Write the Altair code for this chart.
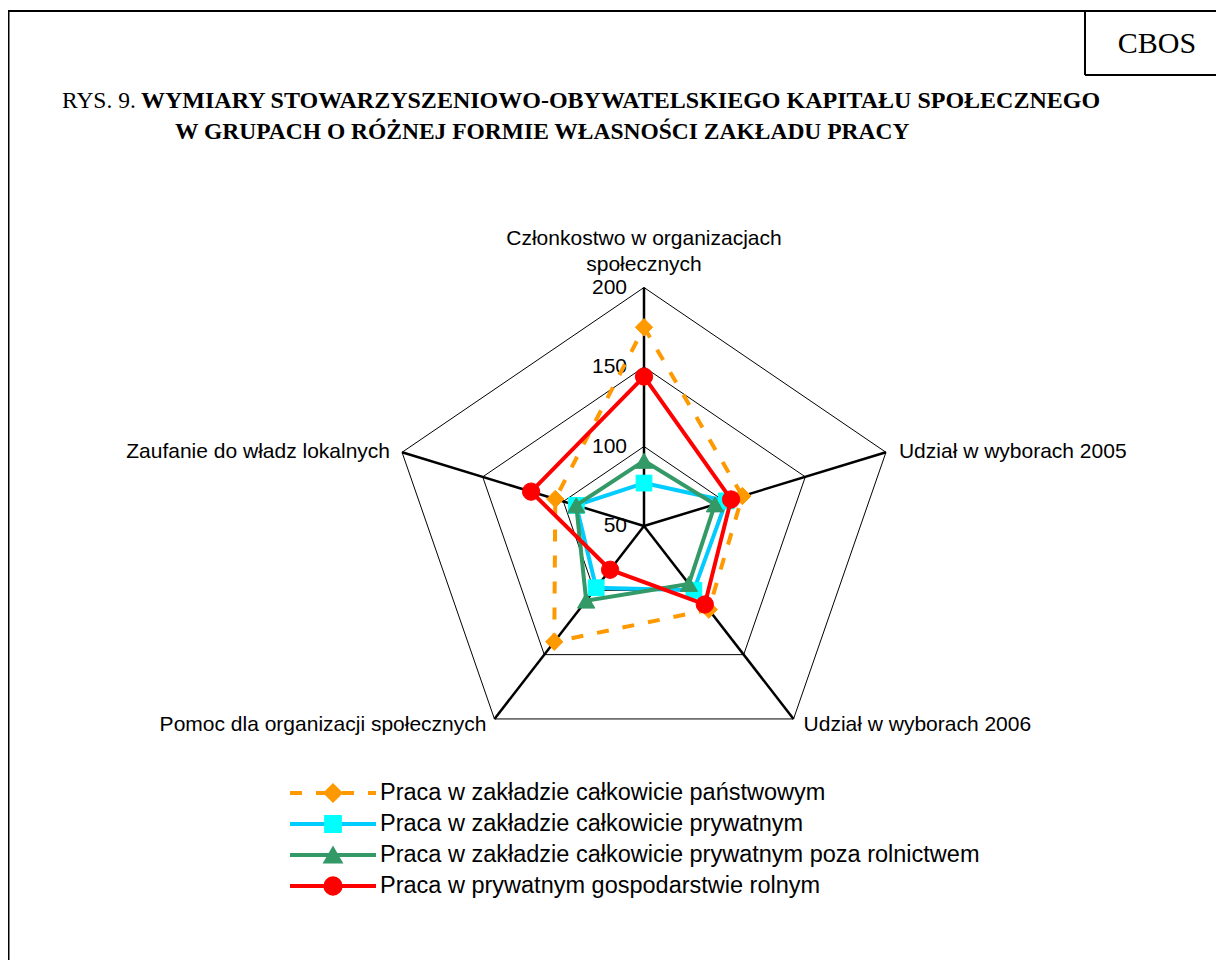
import altair as alt
import pandas as pd

# ---------------- data ----------------
categories = [
    "Członkostwo w organizacjach społecznych",
    "Udział w wyborach 2005",
    "Udział w wyborach 2006",
    "Pomoc dla organizacji społecznych",
    "Zaufanie do władz lokalnych",
]
category_labels = [
    "Członkostwo w organizacjach\nspołecznych",
    "Udział w wyborach 2005",
    "Udział w wyborach 2006",
    "Pomoc dla organizacji społecznych",
    "Zaufanie do władz lokalnych",
]
series_names = [
    "Praca w zakładzie całkowicie państwowym",
    "Praca w zakładzie całkowicie prywatnym",
    "Praca w zakładzie całkowicie prywatnym poza rolnictwem",
    "Praca w prywatnym gospodarstwie rolnym",
]
vals_panstwowy = [175, 111, 115, 140, 105]
vals_prywatny = [77, 101, 100, 98, 92]
vals_poza_rolnictwem = [91, 94, 95, 108, 92]
vals_rolny = [144, 104, 111, 84, 120]
axis_ticks = [50, 100, 150, 200]
ring_values = [100, 150, 200]
axis_min = 50
axis_max = 200

title_prefix = "RYS. 9."
title_line1 = "WYMIARY STOWARZYSZENIOWO-OBYWATELSKIEGO KAPITAŁU SPOŁECZNEGO"
title_line2 = "W GRUPACH O RÓŻNEJ FORMIE WŁASNOŚCI ZAKŁADU PRACY"
source_label = "CBOS"

# ---------------- layout ----------------
W, H = 1208, 952
CX, CY = 636, 518
KX, KY = 1.696, 1.59
xs = alt.Scale(domain=[-CX / KX, (W - CX) / KX], nice=False, zero=False)
ys = alt.Scale(domain=[-(H - CY) / KY, CY / KY], nice=False, zero=False)
SANS = "Liberation Sans"
SERIF = "Liberation Serif"
FS = 21
LEG_FS = 23.5

ANG = "datum.idx * 2 * PI / 5"
CALC_X = f"(datum.value - {axis_min}) * sin({ANG})"
CALC_Y = f"(datum.value - {axis_min}) * cos({ANG})"


def X():
    return alt.X("x:Q", scale=xs, axis=None)


def Y():
    return alt.Y("y:Q", scale=ys, axis=None)


one = pd.DataFrame({"a": [0]})
layers = []

# rings
ring_rows = [{"ring": r, "idx": k % 5, "ord": k, "value": r} for r in ring_values for k in range(6)]
rings = (
    alt.Chart(pd.DataFrame(ring_rows))
    .transform_calculate(x=CALC_X, y=CALC_Y)
    .mark_line(color="black", strokeWidth=1)
    .encode(x=X(), y=Y(), detail="ring:N", order="ord:Q")
)
layers.append(rings)

# spokes
spoke_df = pd.DataFrame({"idx": list(range(5)), "value": [axis_max] * 5})
spokes = (
    alt.Chart(spoke_df)
    .transform_calculate(x=CALC_X, y=CALC_Y, x0="0", y0="0")
    .mark_rule(color="black", strokeWidth=2.5)
    .encode(x=X(), y=Y(), x2="x0:Q", y2="y0:Q")
)
layers.append(spokes)

# tick labels
tick_df = pd.DataFrame({"value": axis_ticks, "idx": [0] * len(axis_ticks)})
ticks = (
    alt.Chart(tick_df)
    .transform_calculate(x=CALC_X, y=CALC_Y)
    .mark_text(align="right", baseline="middle", dx=-17, font=SANS, fontSize=FS, color="black")
    .encode(x=X(), y=Y(), text="value:Q")
)
layers.append(ticks)

# category labels
lab_df = pd.DataFrame({"idx": list(range(5)), "value": [axis_max] * 5, "label": category_labels})
lab_style = {
    0: dict(align="center", baseline="alphabetic", dx=0, dy=-43),
    1: dict(align="left", baseline="middle", dx=13, dy=0),
    2: dict(align="left", baseline="middle", dx=10, dy=6),
    3: dict(align="right", baseline="middle", dx=-8, dy=6),
    4: dict(align="right", baseline="middle", dx=-12, dy=0),
}
for i in range(5):
    layers.append(
        alt.Chart(lab_df)
        .transform_filter(alt.datum.idx == i)
        .transform_calculate(x=CALC_X, y=CALC_Y)
        .mark_text(font=SANS, fontSize=FS, color="black", lineBreak="\n", lineHeight=26, **lab_style[i])
        .encode(x=X(), y=Y(), text="label:N")
    )

# series
series_values = [vals_panstwowy, vals_prywatny, vals_poza_rolnictwem, vals_rolny]
rows = []
for s, vals in zip(series_names, series_values):
    for k in range(6):
        rows.append({"series": s, "idx": k % 5, "ord": k, "category": categories[k % 5], "value": vals[k % 5]})
df = pd.DataFrame(rows)

styles = [
    dict(line="#FF9900", fill="#FF9900", shape="diamond", size=300, dash=[12, 14]),
    dict(line="#00CCFF", fill="#00FFFF", shape="square", size=250, dash=None),
    dict(line="#339966", fill="#339966", shape="triangle-up", size=300, dash=None),
    dict(line="#FF0000", fill="#FF0000", shape="circle", size=300, dash=None),
]

for s, st in zip(series_names, styles):
    base = alt.Chart(df).transform_filter(alt.datum.series == s).transform_calculate(x=CALC_X, y=CALC_Y)
    lkw = dict(color=st["line"], strokeWidth=4)
    if st["dash"]:
        lkw["strokeDash"] = st["dash"]
    layers.append(base.mark_line(**lkw).encode(x=X(), y=Y(), order="ord:Q"))
    layers.append(
        base.transform_filter(alt.datum.ord < 5)
        .mark_point(shape=st["shape"], size=st["size"], filled=True, fill=st["fill"], stroke=st["fill"],
                    strokeWidth=1, opacity=1)
        .encode(x=X(), y=Y(), tooltip=["category:N", "value:Q"])
    )

# legend (drawn manually)
for i, (s, st) in enumerate(zip(series_names, styles)):
    ly = 785 + 31 * i
    ldf = pd.DataFrame({"name": [s]})
    rkw = dict(color=st["line"], strokeWidth=4)
    if st["dash"]:
        rkw["strokeDash"] = st["dash"]
    layers.append(
        alt.Chart(ldf).mark_rule(**rkw).encode(x=alt.value(282), x2=alt.value(368), y=alt.value(ly))
    )
    layers.append(
        alt.Chart(ldf)
        .mark_point(shape=st["shape"], size=st["size"], filled=True, fill=st["fill"], stroke=st["fill"], opacity=1)
        .encode(x=alt.value(325), y=alt.value(ly))
    )
    layers.append(
        alt.Chart(ldf)
        .mark_text(align="left", baseline="middle", font=SANS, fontSize=LEG_FS, color="black")
        .encode(x=alt.value(372), y=alt.value(ly), text="name:N")
    )

# title
layers.append(
    alt.Chart(one).mark_text(align="left", baseline="alphabetic", font=SERIF, fontSize=23.5, color="black")
    .encode(x=alt.value(54), y=alt.value(100), text=alt.value(title_prefix))
)
layers.append(
    alt.Chart(one).mark_text(align="left", baseline="alphabetic", font=SERIF, fontSize=24, fontWeight="bold",
                             color="black")
    .encode(x=alt.value(133), y=alt.value(100), text=alt.value(title_line1))
)
layers.append(
    alt.Chart(one).mark_text(align="left", baseline="alphabetic", font=SERIF, fontSize=23.5, fontWeight="bold",
                             color="black")
    .encode(x=alt.value(167), y=alt.value(131), text=alt.value(title_line2))
)
layers.append(
    alt.Chart(one).mark_text(align="center", baseline="middle", font=SERIF, fontSize=30, color="black")
    .encode(x=alt.value(1149), y=alt.value(36), text=alt.value(source_label))
)

# frame
frame_rules = [
    dict(x=0, x2=W, y=3, y2=3),
    dict(x=0.5, x2=0.5, y=3, y2=H),
    dict(x=1077, x2=1077, y=3, y2=67),
    dict(x=1077, x2=W, y=67, y2=67),
]
for fr in frame_rules:
    layers.append(
        alt.Chart(one).mark_rule(color="black", strokeWidth=2)
        .encode(x=alt.value(fr["x"]), x2=alt.value(fr["x2"]), y=alt.value(fr["y"]), y2=alt.value(fr["y2"]))
    )

chart = (
    alt.layer(*layers)
    .properties(width=W, height=H, autosize=alt.AutoSizeParams(type="none"), padding=0, background="white")
    .configure_view(stroke=None)
)

chart.save("out.html", embed_options={"renderer": "svg", "actions": False})
